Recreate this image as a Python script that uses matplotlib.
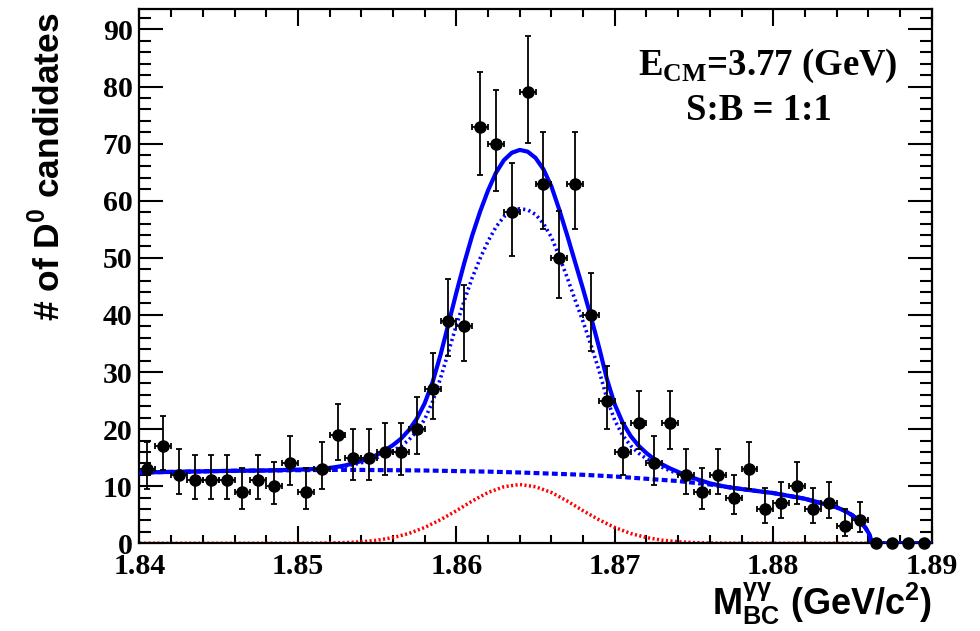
import numpy as np
import matplotlib
matplotlib.use('Agg')
import matplotlib.pyplot as plt
from matplotlib.ticker import MultipleLocator, FixedLocator

# histogram: 50 bins of 1 MeV between 1.84 and 1.89
bin_lo = 1.840
bin_width = 0.001
counts = [13, 17, 12, 11, 11, 11, 9, 11, 10, 14,
          9, 13, 19, 15, 15, 16, 16, 20, 27, 39,
          38, 73, 70, 58, 79, 63, 50, 63, 40, 25,
          16, 21, 14, 21, 12, 9, 12, 8, 13, 6,
          7, 10, 6, 7, 3, 4, 0, 0, 0, 0]

# fit curves
fit_x = [1.840, 1.842, 1.844, 1.846, 1.848,
         1.850, 1.851, 1.852, 1.8525, 1.853, 1.8535, 1.854, 1.8545, 1.855, 1.8555,
         1.856, 1.8565, 1.857, 1.8575, 1.858, 1.8585, 1.859, 1.8595, 1.860, 1.8605,
         1.861, 1.8615, 1.862, 1.8625, 1.863, 1.8635, 1.864, 1.8645, 1.865, 1.8655,
         1.866, 1.8665, 1.867, 1.8675, 1.868, 1.8685, 1.869, 1.8695, 1.870, 1.8705,
         1.871, 1.8715, 1.872, 1.8725, 1.873, 1.8735, 1.874, 1.8745, 1.875,
         1.876, 1.877, 1.878,
         1.880, 1.882, 1.884, 1.8845, 1.885, 1.8855, 1.8858, 1.886, 1.8861, 1.8862,
         1.887, 1.890]
total_fit = [12.4, 12.5, 12.6, 12.7, 12.75,
             12.9, 13.0, 13.2, 13.4, 13.65, 14.0, 14.4, 14.9, 15.5, 16.3,
             17.2, 18.3, 19.8, 21.8, 24.5, 28.2, 33.0, 38.4, 43.9, 49.1,
             53.9, 58.1, 61.8, 64.9, 67.1, 68.4, 68.9, 68.6, 67.5, 65.5,
             62.5, 58.4, 53.9, 49.2, 44.5, 39.6, 34.4, 28.8, 24.3, 21.1,
             18.8, 17.1, 15.8, 14.7, 13.8, 13.1, 12.5, 11.9, 11.4,
             10.5, 9.9, 9.5,
             8.8, 7.8, 6.3, 5.7, 4.9, 3.7, 2.8, 1.9, 1.3, 0.0,
             0.0, 0.0]
signal_fit = [12.4, 12.5, 12.6, 12.7, 12.75,
              12.9, 13.0, 13.15, 13.3, 13.5, 13.8, 14.1, 14.5, 15.0, 15.6,
              16.2, 17.0, 18.1, 19.6, 21.7, 24.8, 28.9, 33.5, 38.2, 42.5,
              46.5, 49.9, 52.9, 55.4, 57.2, 58.2, 58.6, 58.4, 57.6, 56.0,
              53.6, 50.2, 46.5, 42.6, 38.8, 34.7, 30.3, 25.4, 21.5, 18.9,
              17.1, 15.8, 14.8, 14.0, 13.3, 12.7, 12.2, 11.7, 11.3,
              10.45, 9.9, 9.5,
              8.8, 7.8, 6.3, 5.7, 4.9, 3.7, 2.8, 1.9, 1.3, 0.0,
              0.0, 0.0]

bkg_x = [1.840, 1.842, 1.844, 1.846, 1.848, 1.850, 1.852, 1.854, 1.856, 1.858,
         1.860, 1.862, 1.864, 1.866, 1.868, 1.870, 1.872, 1.874, 1.876, 1.878,
         1.880, 1.882, 1.884, 1.8845, 1.885, 1.8855, 1.8858, 1.886, 1.8861, 1.8862,
         1.887, 1.890]
bkg_y = [12.4, 12.5, 12.6, 12.7, 12.75, 12.8, 12.85, 12.85, 12.8, 12.75,
         12.65, 12.55, 12.4, 12.2, 12.0, 11.7, 11.3, 10.9, 10.3, 9.5,
         8.8, 7.8, 6.3, 5.7, 4.9, 3.7, 2.8, 1.9, 1.3, 0.0,
         0.0, 0.0]

red_x = [1.840, 1.850, 1.851, 1.852, 1.853, 1.854, 1.855, 1.856, 1.857, 1.858,
         1.859, 1.860, 1.861, 1.862, 1.863, 1.864, 1.865, 1.866, 1.867, 1.868,
         1.869, 1.870, 1.871, 1.872, 1.873, 1.874, 1.875, 1.876, 1.877, 1.878,
         1.890]
red_y = [0.0, 0.0, 0.01, 0.05, 0.12, 0.27, 0.54, 1.0, 1.72, 2.77,
         4.13, 5.7, 7.4, 8.9, 9.9, 10.3, 9.9, 8.9, 7.4, 5.7,
         4.13, 2.77, 1.72, 1.0, 0.54, 0.27, 0.12, 0.05, 0.01, 0.0,
         0.0]

x_ticks = [1.84, 1.85, 1.86, 1.87, 1.88, 1.89]
x_tick_labels = ['1.84', '1.85', '1.86', '1.87', '1.88', '1.89']

n = np.array(counts, dtype=float)
centres = bin_lo + bin_width * (np.arange(len(n)) + 0.5)
# asymmetric Poisson errors
err_lo = np.sqrt(np.clip(n - 0.25, 0, None))
err_hi = 1.0 + np.sqrt(n + 0.75)
nz = n > 0

fig = plt.figure(figsize=(9.8, 6.31), dpi=100)
ax = fig.add_axes([0.1423, 0.139, 0.8084, 0.846])

blue = '#0000ff'
ax.plot(red_x, red_y, color='#ff0000', lw=2.5, dashes=(0.6, 0.7), zorder=2)
ax.plot(bkg_x, bkg_y, color=blue, lw=3.0, dashes=(1.4, 0.8), zorder=3)
ax.plot(fit_x, signal_fit, color=blue, lw=2.6, dashes=(0.6, 0.9), zorder=3)
ax.plot(fit_x, total_fit, color=blue, lw=3.0, zorder=4)

ax.errorbar(centres[nz], n[nz], yerr=[err_lo[nz], err_hi[nz]], xerr=bin_width / 2,
            fmt='none', ecolor='black', elinewidth=1.3, capsize=2.5, capthick=1.3,
            zorder=5)
ax.plot(centres, n, 'o', color='black', ms=8, zorder=6, clip_on=False)

ax.set_xlim(1.84, 1.89)
ax.set_ylim(0, 93.5)
ax.xaxis.set_major_locator(FixedLocator(x_ticks))
ax.set_xticklabels(x_tick_labels)
ax.xaxis.set_minor_locator(MultipleLocator(0.002))
ax.yaxis.set_major_locator(MultipleLocator(10))
ax.yaxis.set_minor_locator(MultipleLocator(2))

ax.tick_params(which='both', direction='in', top=True, right=True, width=1.5)
ax.tick_params(axis='x', which='major', length=12, pad=7)
ax.tick_params(axis='x', which='minor', length=6)
ax.tick_params(axis='y', which='major', length=17, pad=5)
ax.tick_params(axis='y', which='minor', length=8.5)
for sp in ax.spines.values():
    sp.set_linewidth(1.6)

for lab in ax.get_xticklabels() + ax.get_yticklabels():
    lab.set_fontfamily('Liberation Serif')
    lab.set_fontweight('bold')
    lab.set_fontsize(21.5)

fig.text(48 / 980, 1 - 12 / 631, r'# of D$^{\mathregular{0}}$ candidates',
         rotation=90, ha='center', va='top', fontsize=25.5,
         family='Liberation Sans', weight='bold')
fig.text(932 / 980, 16 / 631,
         r'M$_{\mathregular{BC}}^{\mathregular{γγ}}$ (GeV/c$^{\mathregular{2}}$)',
         ha='right', va='baseline', fontsize=26,
         family='Liberation Sans', weight='bold')

fig.text(768 / 980, 1 - 75 / 631, r'E$_{\mathregular{CM}}$=3.77 (GeV)',
         ha='center', va='baseline', fontsize=26.5,
         family='Liberation Serif', weight='bold')
fig.text(759 / 980, 1 - 120 / 631, 'S:B = 1:1',
         ha='center', va='baseline', fontsize=26.5,
         family='Liberation Serif', weight='bold')

fig.savefig('out.png', dpi=100)
